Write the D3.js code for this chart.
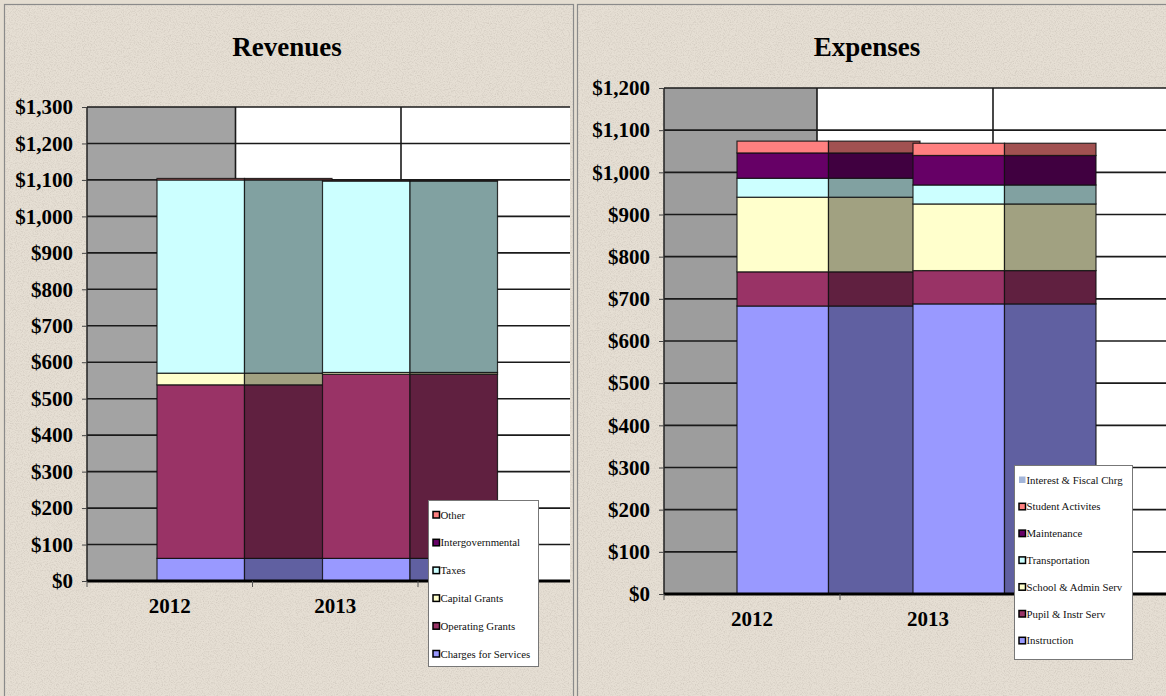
<!DOCTYPE html>
<html>
<head>
<meta charset="utf-8">
<script src="https://cdn.jsdelivr.net/npm/d3@7"></script>
<style>
  html, body { margin: 0; padding: 0; background: #e4ddd1; overflow: hidden; }
  svg { display: block; }
</style>
</head>
<body>
<svg id="chart" width="1166" height="696"></svg>
<script>
// data (values in $ thousands)
const years = ["2012", "2013"];

const revSeries = ["Charges for Services", "Operating Grants", "Capital Grants", "Taxes", "Intergovernmental", "Other"];
const revCharges = [62, 62];
const revOperating = [476, 505];
const revCapital = [32, 5];
const revTaxes = [530, 525];
const revIntergov = [0, 0];
const revOther = [4, 1];
const revTicks = [0, 100, 200, 300, 400, 500, 600, 700, 800, 900, 1000, 1100, 1200, 1300];

const expSeries = ["Instruction", "Pupil & Instr Serv", "School & Admin Serv", "Transportation", "Maintenance", "Student Activites", "Interest & Fiscal Chrg"];
const expInstruction = [683, 688];
const expPupil = [81, 79];
const expSchool = [177, 158];
const expTransport = [45, 45];
const expMaint = [60, 70];
const expStudent = [28, 29];
const expInterest = [0, 0];
const expTicks = [0, 100, 200, 300, 400, 500, 600, 700, 800, 900, 1000, 1100, 1200];

// excel default fills, bottom series first
const fills = ["#9999ff", "#993366", "#ffffcc", "#ccffff", "#660066", "#ff8080", "#a3b5d9"];

const svg = d3.select("#chart");
const defs = svg.append("defs");

// paper texture for the backdrop
const filt = defs.append("filter").attr("id", "paper")
    .attr("x", 0).attr("y", 0).attr("width", "100%").attr("height", "100%");
filt.append("feTurbulence")
    .attr("type", "fractalNoise")
    .attr("baseFrequency", 0.85)
    .attr("numOctaves", 2)
    .attr("seed", 7);
filt.append("feColorMatrix")
    .attr("type", "matrix")
    .attr("values", "0 0 0 0 0.55  0 0 0 0 0.5  0 0 0 0 0.44  1.3 0 0 0 -0.55");

const serif = "'Liberation Serif', 'Times New Roman', serif";

function buildRows(cats, series, cols) {
    return cats.map((c, i) => {
        const row = { year: c };
        series.forEach((s, j) => row[s] = cols[j][i]);
        return row;
    });
}

function drawPanel(cfg) {
    const g = svg.append("g");

    // panel frame
    g.append("rect")
        .attr("x", cfg.panel[0]).attr("y", cfg.panel[1])
        .attr("width", cfg.panel[2]).attr("height", cfg.panel[3])
        .attr("fill", "#e6dfd4");
    g.append("rect")
        .attr("x", cfg.panel[0]).attr("y", cfg.panel[1])
        .attr("width", cfg.panel[2]).attr("height", cfg.panel[3])
        .attr("fill", "#fff")
        .attr("filter", "url(#paper)");
    g.append("rect")
        .attr("x", cfg.panel[0] + 0.5).attr("y", cfg.panel[1] + 0.5)
        .attr("width", cfg.panel[2]).attr("height", cfg.panel[3])
        .attr("fill", "none")
        .attr("stroke", "#8a8a8a")
        .attr("stroke-width", 1.2);

    g.append("text")
        .attr("x", cfg.titleX).attr("y", 56)
        .attr("text-anchor", "middle")
        .attr("font-family", serif)
        .attr("font-weight", "bold")
        .attr("font-size", 27)
        .text(cfg.title);

    const y = d3.scaleLinear().domain([0, cfg.max]).range(cfg.yRange);
    const x = d3.scaleBand().domain(cfg.cats.concat([""])).range(cfg.xRange);
    const step = x.step();
    const axisX = cfg.xRange[0];
    const top = y(cfg.max), base = y(0);
    const divider = cfg.cats.map(c => x(c) + cfg.wallOff);

    // side wall (grey) and back wall (white)
    g.append("rect")
        .attr("x", axisX).attr("y", top)
        .attr("width", divider[0] - axisX).attr("height", base - top)
        .attr("fill", cfg.wallGrey);
    g.append("rect")
        .attr("x", divider[0]).attr("y", top)
        .attr("width", cfg.wallRight - divider[0]).attr("height", base - top)
        .attr("fill", "#ffffff");

    g.selectAll(".grid").data(cfg.ticks).join("line")
        .attr("x1", axisX).attr("x2", cfg.wallRight)
        .attr("y1", d => y(d)).attr("y2", d => y(d))
        .attr("stroke", "#1a1a1a").attr("stroke-width", 1.6);

    g.selectAll(".div").data(divider).join("line")
        .attr("x1", d => d).attr("x2", d => d)
        .attr("y1", top).attr("y2", base)
        .attr("stroke", "#1a1a1a").attr("stroke-width", 1.6);

    // stacked bars: front face then side face
    const stack = d3.stack().keys(cfg.series)(buildRows(cfg.cats, cfg.series, cfg.cols));
    cfg.cats.forEach((c, i) => {
        const fx = x(c) + cfg.frontOff;
        stack.forEach((layer, k) => {
            const d = layer[i];
            if (d[1] - d[0] <= 0) return;
            const rgb = d3.rgb(fills[k]);
            const dark = d3.rgb(rgb.r * 0.63, rgb.g * 0.63, rgb.b * 0.63);
            [[fx, fills[k]], [fx + cfg.barW, dark.formatHex()]].forEach(([bx, col]) => {
                g.append("rect")
                    .attr("x", bx).attr("y", y(d[1]))
                    .attr("width", cfg.barW)
                    .attr("height", y(d[0]) - y(d[1]))
                    .attr("fill", col)
                    .attr("stroke", "#111")
                    .attr("stroke-opacity", 0.85)
                    .attr("stroke-width", 1.2);
            });
        });
    });

    // left axis line and baseline
    g.append("line")
        .attr("x1", axisX).attr("x2", axisX)
        .attr("y1", top).attr("y2", base)
        .attr("stroke", "#222").attr("stroke-width", 1.5);
    g.append("line")
        .attr("x1", axisX).attr("x2", cfg.wallRight)
        .attr("y1", base).attr("y2", base)
        .attr("stroke", "#000").attr("stroke-width", 3);

    const yAxis = d3.axisLeft(y)
        .tickValues(cfg.ticks)
        .tickSize(5)
        .tickPadding(9)
        .tickFormat(d => "$" + d3.format(",")(d));
    const ya = g.append("g").attr("transform", `translate(${axisX},0)`).call(yAxis);
    ya.select(".domain").remove();
    ya.selectAll(".tick line").attr("stroke", "#444");
    ya.selectAll("text")
        .attr("font-family", serif)
        .attr("font-weight", "bold")
        .attr("font-size", 21)
        .attr("fill", "#000");

    const xa = g.append("g").attr("transform", `translate(0,${base})`);
    xa.selectAll("line").data(cfg.cats.concat([""])).join("line")
        .attr("x1", d => x(d)).attr("x2", d => x(d))
        .attr("y1", 0).attr("y2", 6)
        .attr("stroke", "#555");
    xa.selectAll("text").data(cfg.cats).join("text")
        .attr("x", d => x(d) + step / 2)
        .attr("y", cfg.catDy)
        .attr("text-anchor", "middle")
        .attr("font-family", serif)
        .attr("font-weight", "bold")
        .attr("font-size", 21)
        .text(d => d);

    // legend, top series first
    const lg = g.append("g");
    lg.append("rect")
        .attr("x", cfg.legend[0] + 0.5).attr("y", cfg.legend[1] + 0.5)
        .attr("width", cfg.legend[2]).attr("height", cfg.legend[3])
        .attr("fill", "#fff")
        .attr("stroke", "#777");
    const items = cfg.series.map((s, k) => ({ name: s, k })).reverse();
    const rows = lg.selectAll(".item").data(items).join("g")
        .attr("transform", (d, i) => `translate(${cfg.legend[0] + 5},${cfg.legend[1] + cfg.legFirst + i * cfg.legStep})`);
    rows.append("rect")
        .attr("x", 0).attr("y", -3.5)
        .attr("width", 6.5).attr("height", 6.5)
        .attr("fill", d => fills[d.k])
        .attr("stroke", d => d.k === 6 ? "none" : "#000")
        .attr("stroke-width", 1.5);
    rows.append("text")
        .attr("x", 7.5).attr("y", 3.5)
        .attr("font-family", serif)
        .attr("font-size", 10.8)
        .attr("fill", "#111")
        .text(d => d.name);
}

drawPanel({
    title: "Revenues", titleX: 287,
    panel: [4, 4, 569, 710],
    cats: years, series: revSeries,
    cols: [revCharges, revOperating, revCapital, revTaxes, revIntergov, revOther],
    max: 1300, ticks: revTicks,
    yRange: [581, 107], xRange: [87, 583.5],
    wallRight: 570, wallOff: 148.5, wallGrey: "#a3a3a3",
    frontOff: 70, barW: 87.5, catDy: 32,
    legend: [428, 500, 110, 166], legFirst: 15, legStep: 27.8
});

drawPanel({
    title: "Expenses", titleX: 867,
    panel: [577, 4, 600, 710],
    cats: years, series: expSeries,
    cols: [expInstruction, expPupil, expSchool, expTransport, expMaint, expStudent, expInterest],
    max: 1200, ticks: expTicks,
    yRange: [594, 88], xRange: [664, 1192],
    wallRight: 1166, wallOff: 153, wallGrey: "#9d9d9d",
    frontOff: 73, barW: 91.5, catDy: 32,
    legend: [1014, 465, 118, 194], legFirst: 15, legStep: 26.8
});
</script>
</body>
</html>
